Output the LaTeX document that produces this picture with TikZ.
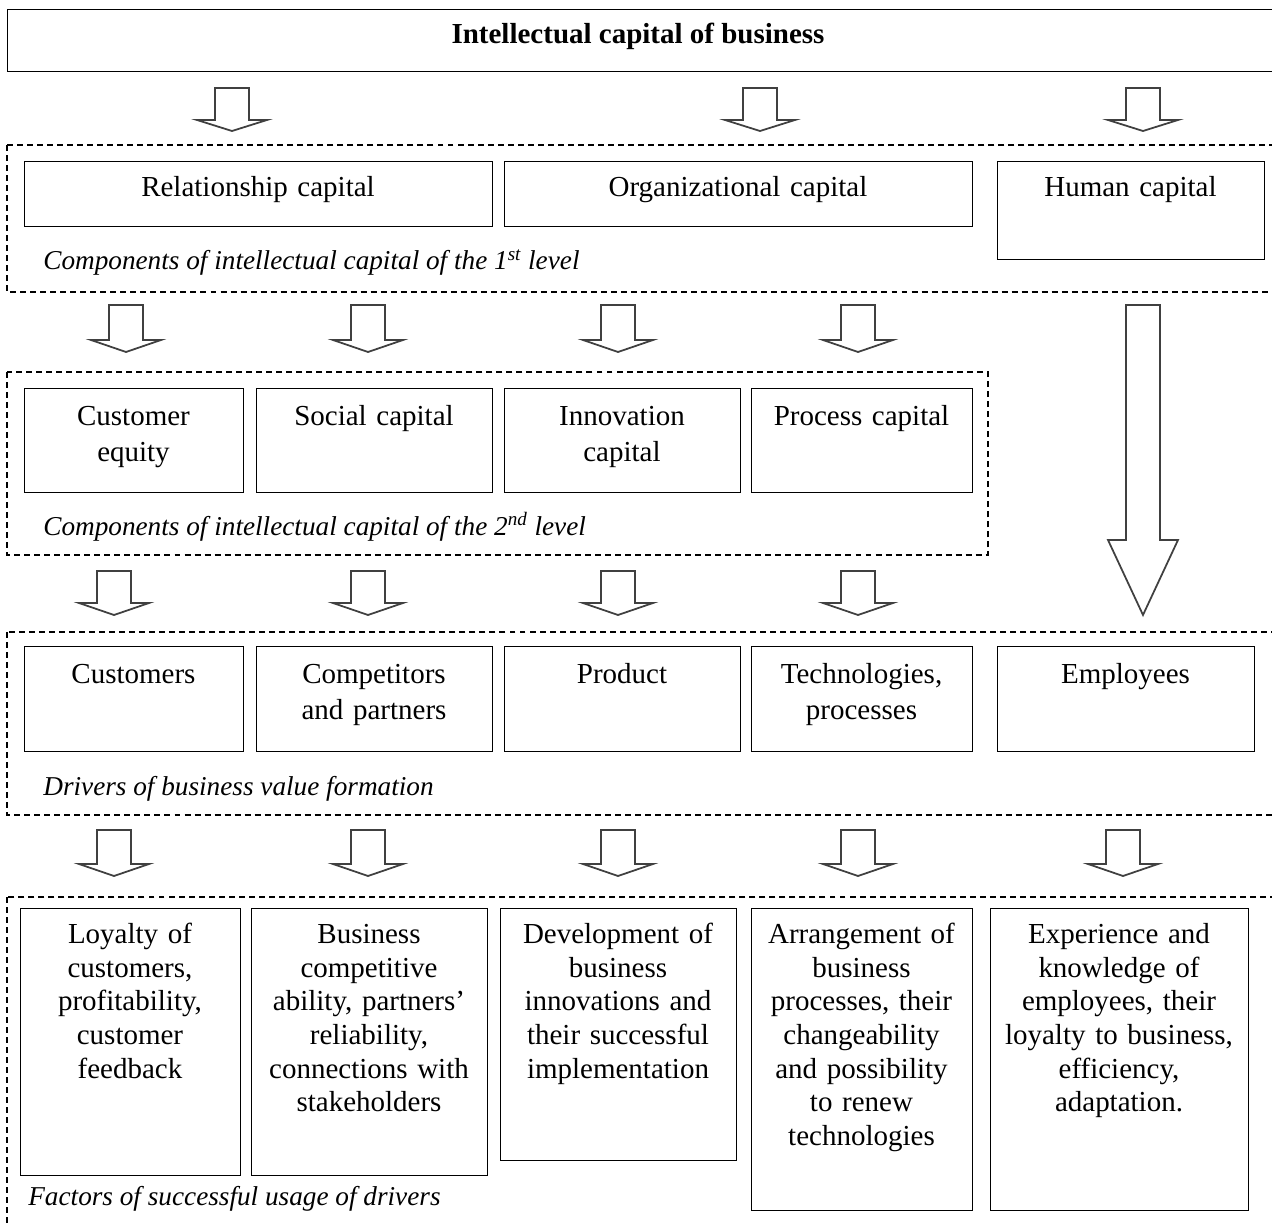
\documentclass[tikz,border=0pt]{standalone}
\usepackage{fontspec}
\setmainfont{Liberation Serif}
\usetikzlibrary{positioning}

\tikzset{
  capbox/.style={draw, line width=0.8pt, inner sep=0pt},
  captext/.style={inner sep=0pt, align=center, font=\fontsize{16.5}{19.1}\selectfont},
  wide/.style={font=\fontsize{16.5}{20.4}\selectfont},
  grpbox/.style={draw, line width=0.7pt, dash pattern=on 3.4pt off 2.3pt},
  grplabel/.style={inner sep=0pt, anchor=base west, font=\fontsize{15.5}{18}\selectfont\itshape},
  blkarrow/.style={draw=black!75, line width=1pt, fill=white, line join=miter}
}

% box with its text set at the top: [style] name, left, top, right, bottom, text
\newcommand{\capnode}[7][]{%
  \pgfmathsetmacro{\bw}{(#5-#3)*0.02}%
  \pgfmathsetmacro{\bh}{(#6-#4)*0.02}%
  \pgfmathsetmacro{\tw}{(#5-#3-6)*0.02}%
  \node[capbox, anchor=north west, minimum width=\bw cm, minimum height=\bh cm] (#2) at (#3,#4) {};
  \node[captext, #1, anchor=north, text width=\tw cm] (#2-txt) at ({(#3+#5)/2},{#4+12}) {\strut #7};
}

% hollow block arrow: centre x, top, shoulder, tip
\newcommand{\blkdown}[4]{%
  \draw[blkarrow] (#1-17,#2) -- (#1+17,#2) -- (#1+17,#3) -- (#1+35,#3)
    -- (#1,#4) -- (#1-35,#3) -- (#1-17,#3) -- cycle;
}

\begin{document}
\begin{tikzpicture}[x=0.02cm, y=-0.02cm]
  \useasboundingbox (0,0) rectangle (1272,1223);
  \clip (0,0) rectangle (1272,1223);

  % title
  \node[capbox, anchor=north west, minimum width=25.56cm, minimum height=1.24cm] (title) at (7,9) {};
  \node[inner sep=0pt, anchor=base, font=\fontsize{16.5}{19.1}\selectfont\bfseries] (titletxt) at (638,44) {Intellectual capital of business};

  % dashed groups
  \draw[grpbox] (7,145) rectangle (1290,292);
  \draw[grpbox] (7,372) rectangle (988,555);
  \draw[grpbox] (7,632) rectangle (1290,815);
  \draw[grpbox] (7,897) rectangle (1290,1240);

  % 1st level
  \capnode{relcap}{24}{161}{492}{226}{Relationship capital}
  \capnode{orgcap}{504}{161}{972}{226}{Organizational capital}
  \capnode{humcap}{997}{161}{1264}{259}{Human capital}
  \node[grplabel] (lvlone) at (43,270) {Components of intellectual capital of the 1\textsuperscript{st} level};

  % 2nd level
  \capnode[wide]{custeq}{24}{388}{243}{492}{Customer\\equity}
  \capnode[wide]{soccap}{256}{388}{492}{492}{Social capital}
  \capnode[wide]{innocap}{504}{388}{740}{492}{Innovation\\capital}
  \capnode[wide]{proccap}{751}{388}{972}{492}{Process capital}
  \node[grplabel] (lvltwo) at (43,535) {Components of intellectual capital of the 2\textsuperscript{nd} level};

  % drivers
  \capnode[wide]{custs}{24}{646}{243}{751}{Customers}
  \capnode[wide]{comps}{256}{646}{492}{751}{Competitors\\and partners}
  \capnode[wide]{prod}{504}{646}{740}{751}{Product}
  \capnode[wide]{techs}{751}{646}{972}{751}{Technologies,\\processes}
  \capnode[wide]{empls}{997}{646}{1254}{751}{Employees}
  \node[grplabel] (drivers) at (43,795) {Drivers of business value formation};

  % factors
  \capnode{loyal}{20}{908}{240}{1175}{Loyalty of\\customers,\\profitability,\\customer\\feedback}
  \capnode{compet}{251}{908}{487}{1175}{Business\\competitive\\ability, partners’\\reliability,\\connections with\\stakeholders}
  \capnode{develop}{500}{908}{736}{1160}{Development of\\business\\innovations and\\their successful\\implementation}
  \capnode{arrange}{751}{908}{972}{1210}{Arrangement of\\business\\processes, their\\changeability\\and possibility\\to renew\\technologies}
  \capnode{experience}{990}{908}{1248}{1210}{Experience and\\knowledge of\\employees, their\\loyalty to business,\\efficiency,\\adaptation.}
  \node[grplabel] (factors) at (28,1205) {Factors of successful usage of drivers};

  % arrows
  \foreach \cx in {232,760,1143} {\blkdown{\cx}{88}{120}{131}}
  \foreach \cx in {126,368,618,858} {\blkdown{\cx}{305}{340}{352}}
  \foreach \cx in {114,368,618,858} {\blkdown{\cx}{571}{603}{615}}
  \foreach \cx in {114,368,618,858,1123} {\blkdown{\cx}{830}{864}{876}}
  \blkdown{1143}{305}{540}{615}
\end{tikzpicture}
\end{document}
